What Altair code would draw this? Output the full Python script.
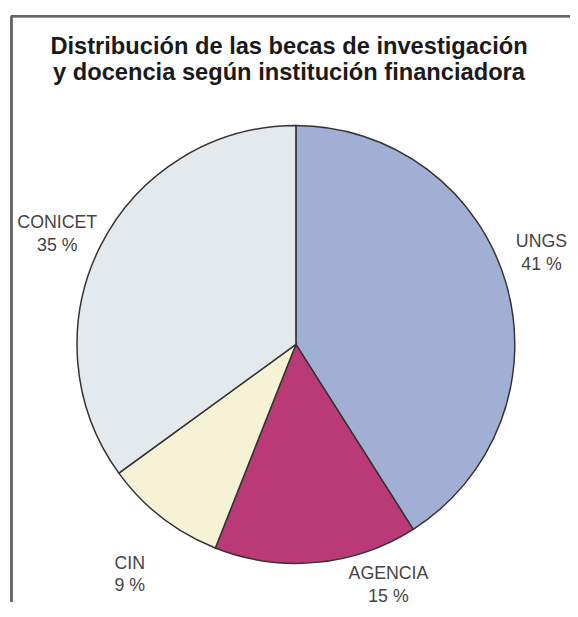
import altair as alt
import pandas as pd

categories = ["UNGS", "AGENCIA", "CIN", "CONICET"]
values = [41, 15, 9, 35]
pct_labels = ["41 %", "15 %", "9 %", "35 %"]
colors = ["#a2afd5", "#b93a77", "#f6f2d6", "#e4e9ee"]
title_lines = ["Distribución de las becas de investigación",
               "y docencia según institución financiadora"]

df = pd.DataFrame({
    "cat": categories,
    "value": values,
    "pct": pct_labels,
    "idx": list(range(len(categories))),
})
df["label"] = df["cat"] + "\n" + df["pct"]

W, H = 570, 498
CX, CY = 292, 237
R = 222

base = alt.Chart(df).properties(width=W, height=H)

theta_scale = alt.Scale(domain=[0, 100])

arc = base.mark_arc(stroke="#333333", strokeWidth=1.5, radius=R).encode(
    theta=alt.Theta("value:Q", stack=True, scale=theta_scale),
    color=alt.Color("cat:N", scale=alt.Scale(domain=categories, range=colors), legend=None),
    order=alt.Order("idx:Q"),
    x=alt.value(CX),
    y=alt.value(CY),
)

text_base = base.transform_window(
    cum="sum(value)", sort=[alt.SortField("idx")], frame=[None, 0]
).transform_calculate(mid="datum.cum - datum.value / 2")

offsets = {"UNGS": (-15, -27), "AGENCIA": (68, -41), "CIN": (0, 5), "CONICET": (3, 2)}

layers = [arc]
for c in categories:
    dx, dy = offsets[c]
    layers.append(
        text_base.transform_filter(alt.datum.cat == c).mark_text(
            radius=275, dx=dx, dy=dy, fontSize=18, font="Liberation Sans",
            color="#444444", lineBreak="\n", lineHeight=23,
            align="center", baseline="middle",
        ).encode(
            theta=alt.Theta("mid:Q", stack=None, scale=theta_scale),
            text="label:N",
            x=alt.value(CX),
            y=alt.value(CY),
        )
    )

title_text = alt.Chart(pd.DataFrame({"t": ["\n".join(title_lines)]})).mark_text(
    font="Liberation Sans", fontSize=24, fontWeight="bold", color="#1a1a1a",
    lineBreak="\n", lineHeight=27, align="center", baseline="top",
).encode(text="t:N", x=alt.value(W / 2), y=alt.value(-77))

top_line = base.mark_rule(color="#666666", strokeWidth=2).encode(
    x=alt.value(3), x2=alt.value(W), y=alt.value(-96)
)
left_line = base.mark_rule(color="#666666", strokeWidth=2).encode(
    x=alt.value(3.5), y=alt.value(-96), y2=alt.value(H)
)
layers += [title_text, top_line, left_line]

chart = alt.layer(*layers).properties(
    width=W, height=H,
    autosize=alt.AutoSizeParams(type="none"),
    padding={"left": 0, "top": 100, "right": 0, "bottom": 0},
).configure_view(stroke=None)

chart.save("out.html", embed_options={"renderer": "svg", "actions": False})
